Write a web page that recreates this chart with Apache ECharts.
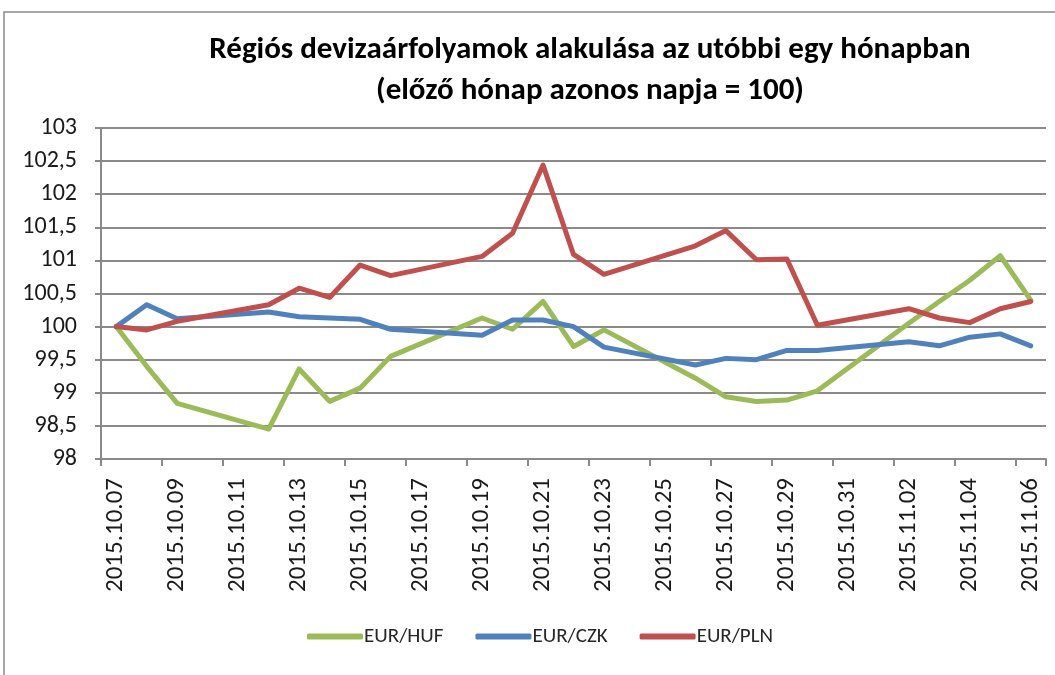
<!DOCTYPE html>
<html>
<head>
<meta charset="utf-8">
<script src="https://cdn.jsdelivr.net/npm/echarts@6/dist/echarts.min.js"></script>
<style>
html,body{margin:0;padding:0;background:#fff;}
#chart{width:1055px;height:675px;}
</style>
</head>
<body>
<div id="chart"></div>
<script>
// Categories: every calendar day; weekends have no quotes (null)
const categories = [
  '2015.10.07','2015.10.08','2015.10.09','2015.10.10','2015.10.11','2015.10.12','2015.10.13',
  '2015.10.14','2015.10.15','2015.10.16','2015.10.17','2015.10.18','2015.10.19','2015.10.20',
  '2015.10.21','2015.10.22','2015.10.23','2015.10.24','2015.10.25','2015.10.26','2015.10.27',
  '2015.10.28','2015.10.29','2015.10.30','2015.10.31','2015.11.01','2015.11.02','2015.11.03',
  '2015.11.04','2015.11.05','2015.11.06'
];
const eurHuf = [
  100.00, 99.40, 98.84, null, null, 98.45, 99.36,
  98.87, 99.07, 99.55, null, null, 100.13, 99.96,
  100.38, 99.70, 99.95, null, null, 99.22, 98.94,
  98.87, 98.89, 99.03, null, null, 100.05, 100.38,
  100.70, 101.07, 100.40
];
const eurCzk = [
  100.00, 100.33, 100.12, null, null, 100.22, 100.15,
  100.13, 100.11, 99.96, null, null, 99.87, 100.10,
  100.10, 100.00, 99.69, null, null, 99.42, 99.52,
  99.50, 99.64, 99.64, null, null, 99.77, 99.71,
  99.84, 99.89, 99.71
];
const eurPln = [
  100.00, 99.95, 100.08, null, null, 100.33, 100.58,
  100.44, 100.93, 100.77, null, null, 101.06, 101.41,
  102.44, 101.09, 100.79, null, null, 101.22, 101.45,
  101.01, 101.02, 100.02, null, null, 100.27, 100.13,
  100.06, 100.27, 100.38
];
const seriesNames = ['EUR/HUF', 'EUR/CZK', 'EUR/PLN'];
const seriesColors = ['#9BBB59', '#4F81BD', '#C0504D'];
const yMin = 98, yMax = 103, yStep = 0.5;

const FONT = "Carlito, Lato, 'Open Sans', sans-serif";
const chart = echarts.init(document.getElementById('chart'));
const dataSets = [eurHuf, eurCzk, eurPln];

chart.setOption({
  animation: false,
  backgroundColor: '#fff',
  title: {
    text: 'Régiós devizaárfolyamok alakulása az utóbbi egy hónapban\n(előző hónap azonos napja = 100)',
    left: 585,
    top: 25,
    textAlign: 'center',
    textStyle: {
      fontFamily: FONT, fontSize: 31, fontWeight: 'bold', color: '#000', lineHeight: 41
    }
  },
  graphic: [{
    type: 'rect',
    shape: { x: 4, y: 12, width: 1070, height: 700 },
    style: { fill: 'none', stroke: '#8a8a8a', lineWidth: 1.5 },
    silent: true
  }],
  legend: {
    data: seriesNames,
    left: 302,
    top: 621,
    icon: 'roundRect',
    itemWidth: 56,
    itemHeight: 6,
    itemGap: 32,
    textStyle: { fontFamily: FONT, fontSize: 21, color: '#262626', padding: [0, 0, 0, -4] }
  },
  grid: { left: 101, right: 9, top: 128, bottom: 216, containLabel: false },
  xAxis: {
    type: 'category',
    data: categories,
    boundaryGap: true,
    axisLine: { lineStyle: { color: '#8a8a8a', width: 2 } },
    axisTick: { show: true, interval: 1, length: 7, lineStyle: { color: '#8a8a8a', width: 2 } },
    axisLabel: {
      interval: 1, rotate: 90, margin: 19,
      fontFamily: FONT, fontSize: 25, color: '#1a1a1a'
    },
    splitLine: { show: false }
  },
  yAxis: {
    type: 'value',
    min: yMin, max: yMax, interval: yStep,
    axisLine: { show: true, lineStyle: { color: '#8a8a8a', width: 2 } },
    axisTick: { show: true, length: 6, lineStyle: { color: '#8a8a8a', width: 2 } },
    axisLabel: {
      margin: 24,
      fontFamily: FONT, fontSize: 24, color: '#1a1a1a',
      formatter: v => String(v).replace('.', ',')
    },
    splitLine: { lineStyle: { color: '#8a8a8a', width: 2 } }
  },
  series: seriesNames.map((n, i) => ({
    name: n,
    type: 'line',
    data: dataSets[i],
    connectNulls: true,
    showSymbol: false,
    symbol: 'none',
    lineStyle: { color: seriesColors[i], width: 5, cap: 'round', join: 'round' },
    itemStyle: { color: seriesColors[i] },
    z: 3 + i
  }))
});
</script>
</body>
</html>
